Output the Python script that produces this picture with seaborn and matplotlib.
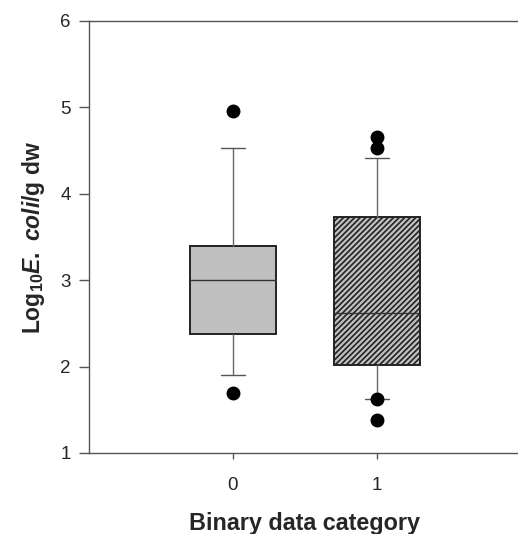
import matplotlib
matplotlib.use("Agg")
import matplotlib.pyplot as plt
import seaborn as sns

# values
categories = ["0", "1"]
q1 = [2.38, 2.02]
medians = [3.00, 2.62]
q3 = [3.40, 3.73]
whisker_low = [1.90, 1.63]
whisker_high = [4.53, 4.41]
outliers = [[4.96, 1.69], [4.66, 4.53, 1.62, 1.38]]

sns.set_style("ticks")
plt.rcParams['font.family'] = ['Liberation Sans', 'DejaVu Sans']
plt.rcParams['mathtext.fontset'] = 'custom'
plt.rcParams['mathtext.rm'] = 'Liberation Sans:bold'
plt.rcParams['mathtext.it'] = 'Liberation Sans:italic:bold'
plt.rcParams['mathtext.bf'] = 'Liberation Sans:bold'
plt.rcParams['hatch.linewidth'] = 1.2

stats = []
for i, cat in enumerate(categories):
    stats.append({
        'label': cat,
        'q1': q1[i], 'med': medians[i], 'q3': q3[i],
        'whislo': whisker_low[i], 'whishi': whisker_high[i],
        'fliers': outliers[i],
    })

fig = plt.figure(figsize=(5.18, 5.34), dpi=100)
ax = fig.add_axes([0.1718, 0.1517, 0.834, 0.809])

bp = ax.bxp(stats, positions=[0, 1], widths=0.6, capwidths=0.17,
            patch_artist=True,
            boxprops=dict(facecolor='#c0c0c0', edgecolor='#222222', linewidth=1.4),
            medianprops=dict(color='#333333', linewidth=1.0),
            whiskerprops=dict(color='#666666', linewidth=1.0),
            capprops=dict(color='#555555', linewidth=1.0),
            flierprops=dict(marker='o', markerfacecolor='black',
                            markeredgecolor='black', markersize=9))
bp['boxes'][1].set_hatch('//////')

ax.set_xlim(-1, 2)
ax.set_ylim(1, 6)
ax.set_yticks([1, 2, 3, 4, 5, 6])
ax.set_xticks([0, 1])
ax.set_xticklabels(categories)

for side in ['left', 'bottom', 'top']:
    ax.spines[side].set_color('#555555')
    ax.spines[side].set_linewidth(1.0)
ax.spines['right'].set_visible(False)

ax.tick_params(axis='y', length=7, width=1, color='#555555', pad=6, labelsize=13.5)
ax.tick_params(axis='x', length=4, width=1, color='#555555', pad=13, labelsize=13.5)

ax.set_xlabel('Binary data category', fontsize=16.8, fontweight='bold', labelpad=13)
ax.set_ylabel(r'$\mathrm{Log}_{10}\mathit{E.\ coli}\mathrm{/g\ dw}$', fontsize=16.5, labelpad=10)

fig.savefig('out.png', dpi=100)
